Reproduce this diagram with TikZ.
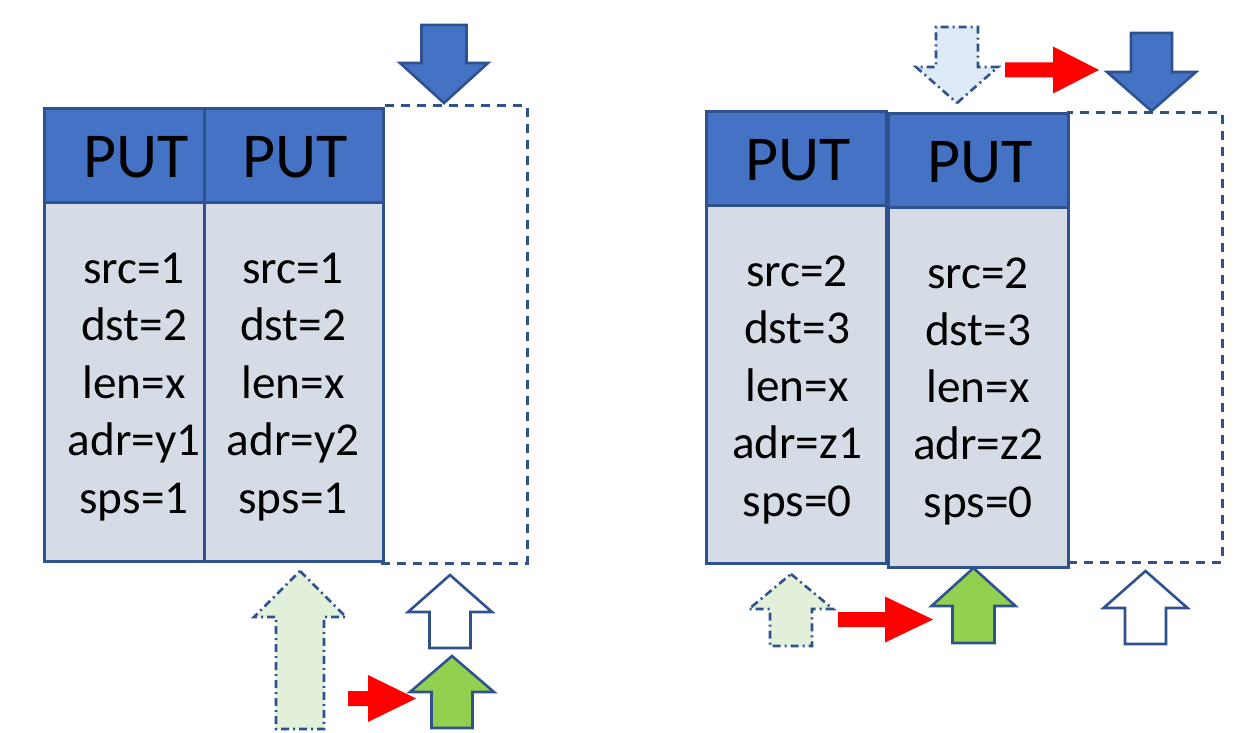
\documentclass[tikz,border=0pt]{standalone}
\usepackage{fontspec}
\setmainfont{Carlito}
\usetikzlibrary{fit}
\definecolor{hdr}{HTML}{4472C4}
\definecolor{bdy}{HTML}{D6DCE5}
\definecolor{edge}{HTML}{2F528F}
\definecolor{grn}{HTML}{92D050}
\definecolor{palegrn}{HTML}{E2F0D9}
\definecolor{paleblu}{HTML}{DEEBF7}
\definecolor{hot}{HTML}{FF0000}

% vertical block arrow: style, centre x, tip y, head half width, head base y, shaft half width, tail y
\newcommand\vblock[7]{%
  \draw[#1] (#2,#3) -- (#2+#4,#5) -- (#2+#6,#5) -- (#2+#6,#7) -- (#2-#6,#7)
    -- (#2-#6,#5) -- (#2-#4,#5) -- cycle;}
% horizontal block arrow: style, centre y, tip x, head half height, head base x, shaft half height, tail x
\newcommand\hblock[7]{%
  \fill[#1] (#3,#2) -- (#5,#2-#4) -- (#5,#2-#6) -- (#7,#2-#6) -- (#7,#2+#6)
    -- (#5,#2+#6) -- (#5,#2+#4) -- cycle;}
% a column of field lines inside a descriptor body
\newcommand\fieldcol[5]{%
  \foreach \t [count=\i] in {#5}
    \node[field] (#1-\i) at (#2,#3+#4*\i-#4) {\t};}

\begin{document}
\begin{tikzpicture}[x=0.5pt,y=-0.5pt,
  hdrbox/.style={draw=edge, line width=1.5pt, fill=hdr, inner sep=0pt},
  bodybox/.style={draw=edge, line width=1.5pt, fill=bdy, inner sep=0pt},
  slot/.style={draw=edge, line width=1.5pt, dash pattern=on 4.5pt off 3.5pt, inner sep=0pt},
  puttext/.style={font=\fontsize{32}{38}\selectfont, anchor=base, inner sep=0pt},
  field/.style={font=\fontsize{23.6}{28}\selectfont, anchor=base, inner sep=0pt},
  fullblue/.style={draw=edge, line width=1.3pt, fill=hdr},
  fullgreen/.style={draw=edge, line width=1.3pt, fill=grn},
  hollow/.style={draw=edge, line width=1.3pt, fill=white},
  ghostgreen/.style={draw=edge, line width=1.3pt, fill=palegrn, dash pattern=on 4pt off 2pt on 1pt off 2pt},
  ghostblue/.style={draw=edge, line width=1.3pt, fill=paleblu, dash pattern=on 4pt off 2pt on 1pt off 2pt},
  move/.style={hot}]
\useasboundingbox (0,0) rectangle (1242,733);

% ---------- first queue ----------
\node[slot, fit={(381,106) (527,563)}] (s1) {};
\node[bodybox, fit={(44,202) (204,561)}] (b1) {};
\node[bodybox, fit={(204,202) (383,561)}] (b2) {};
\node[hdrbox, fit={(44,109) (204,202)}] (h1) {};
\node[hdrbox, fit={(204,109) (383,202)}] (h2) {};
\node[puttext] (p1) at (136,177) {PUT};
\node[puttext] (p2) at (295,177) {PUT};
\fieldcol{fa}{134}{283}{57.5}{src=1,dst=2,len=x,adr=y1,sps=1}
\fieldcol{fb}{293}{283}{57.5}{src=1,dst=2,len=x,adr=y2,sps=1}

\vblock{fullblue}{444}{103}{44}{63}{22.5}{25}
\vblock{ghostgreen}{300}{571}{46}{617}{24}{729}
\vblock{hollow}{450}{575}{42}{612}{20.5}{648}
\vblock{fullgreen}{452}{656}{42}{692}{20.5}{728}
\hblock{move}{698.5}{416}{23.5}{368}{7.5}{348}

% ---------- second queue ----------
\node[slot, fit={(1068,113) (1222,562)}] (s2) {};
\node[bodybox, fit={(706,205) (886,563)}] (b3) {};
\node[bodybox, fit={(888,207) (1068,567)}] (b4) {};
\node[hdrbox, fit={(706,112) (886,205)}] (h3) {};
\node[hdrbox, fit={(888,114) (1068,207)}] (h4) {};
\node[puttext] (p3) at (798,180) {PUT};
\node[puttext] (p4) at (980,183) {PUT};
\fieldcol{fc}{797}{286}{57.5}{src=2,dst=3,len=x,adr=z1,sps=0}
\fieldcol{fd}{978}{288}{57.25}{src=2,dst=3,len=x,adr=z2,sps=0}

\vblock{ghostblue}{957}{103}{41}{67}{21}{27}
\vblock{fullblue}{1151.5}{111}{44.5}{72}{20.5}{33}
\hblock{move}{70}{1099}{23.5}{1053}{7.5}{1005}

\vblock{ghostgreen}{791}{574}{42}{609}{21}{646}
\vblock{fullgreen}{973.5}{568}{42}{606}{21}{643}
\vblock{hollow}{1145.5}{571}{42}{608}{20.5}{644}
\hblock{move}{619.5}{933}{23}{885}{7.5}{838}
\end{tikzpicture}
\end{document}
